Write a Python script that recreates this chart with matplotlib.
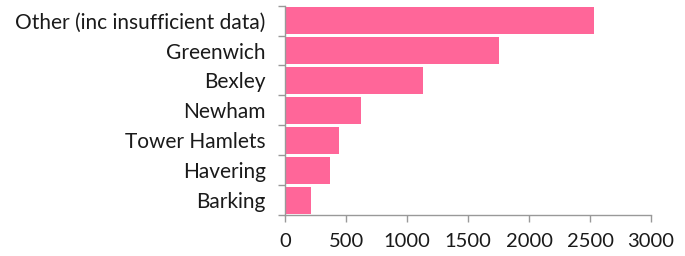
import matplotlib
matplotlib.use("Agg")
import matplotlib.pyplot as plt
import numpy as np

categories = ["Other (inc insufficient data)", "Greenwich", "Bexley", "Newham",
              "Tower Hamlets", "Havering", "Barking"]
values = [2530, 1750, 1127, 618, 440, 367, 213]
xticks = [0, 500, 1000, 1500, 2000, 2500, 3000]
xticklabels = ["0", "500", "1000", "1500", "2000", "2500", "3000"]

plt.rcParams['font.family'] = ['Lato', 'DejaVu Sans']

fig = plt.figure(figsize=(6.85, 2.56), dpi=100)
ax = fig.add_axes([0.4165, 0.160, 0.9504 - 0.4165, 0.978 - 0.160])

y = np.arange(len(categories))
ax.barh(y, values, height=0.9, color='#ff6699', edgecolor='none')
ax.set_ylim(len(categories) - 0.5, -0.5)
ax.set_xlim(0, 3000)

ax.set_yticks(y)
ax.set_yticklabels(categories, fontsize=15, color='#1a1a1a')
ax.set_yticks(np.arange(-0.5, len(categories), 1), minor=True)
ax.tick_params(axis='y', which='major', length=0, pad=14)
ax.tick_params(axis='y', which='minor', length=5, width=1, color='#999999', direction='out')

ax.set_xticks(xticks)
ax.set_xticklabels(xticklabels, fontsize=14.5, color='#1a1a1a')
ax.tick_params(axis='x', which='major', length=5, width=1, color='#999999', pad=8)

for s in ['top', 'right']:
    ax.spines[s].set_visible(False)
for s in ['left', 'bottom']:
    ax.spines[s].set_color('#999999')
    ax.spines[s].set_linewidth(1)

fig.savefig("out.png", dpi=100)
